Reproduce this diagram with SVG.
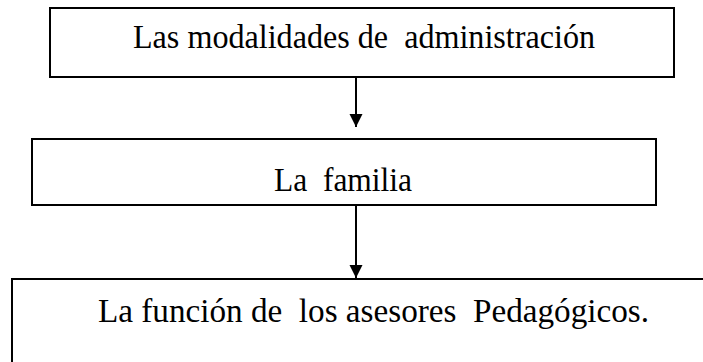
<svg xmlns="http://www.w3.org/2000/svg" width="703" height="362" viewBox="0 0 703 362">
<style>
.box{fill:#fff;stroke:#000;stroke-width:2}
.lbl{font-family:"Liberation Serif","Times New Roman",serif;font-size:33px;fill:#000}
.conn{stroke:#000;stroke-width:2;fill:none}
</style>
<defs>
<marker id="ah" markerWidth="13" markerHeight="15" refX="13" refY="6.5" orient="auto" markerUnits="userSpaceOnUse">
<path d="M0,0 L13,6.5 L0,13 Z" fill="#000"/>
</marker>
</defs>
<rect width="703" height="362" fill="#fff"/>
<g id="n1">
<rect class="box" x="50" y="8" width="624" height="69"/>
<text class="lbl" x="133" y="48" textLength="462" lengthAdjust="spacingAndGlyphs" xml:space="preserve">Las modalidades de  administración</text>
</g>
<g id="n2">
<rect class="box" x="32" y="139" width="624" height="66"/>
<text class="lbl" x="274" y="191" textLength="138" lengthAdjust="spacingAndGlyphs" xml:space="preserve">La  familia</text>
</g>
<g id="n3">
<rect class="box" x="12" y="279" width="710" height="100"/>
<text class="lbl" x="98" y="322" textLength="551" lengthAdjust="spacingAndGlyphs" xml:space="preserve">La función de  los asesores  Pedagógicos.</text>
</g>
<g id="connectors">
<line class="conn" x1="356" y1="77" x2="356" y2="127" marker-end="url(#ah)"/>
<line class="conn" x1="356" y1="205" x2="356" y2="278" marker-end="url(#ah)"/>
</g>
</svg>
